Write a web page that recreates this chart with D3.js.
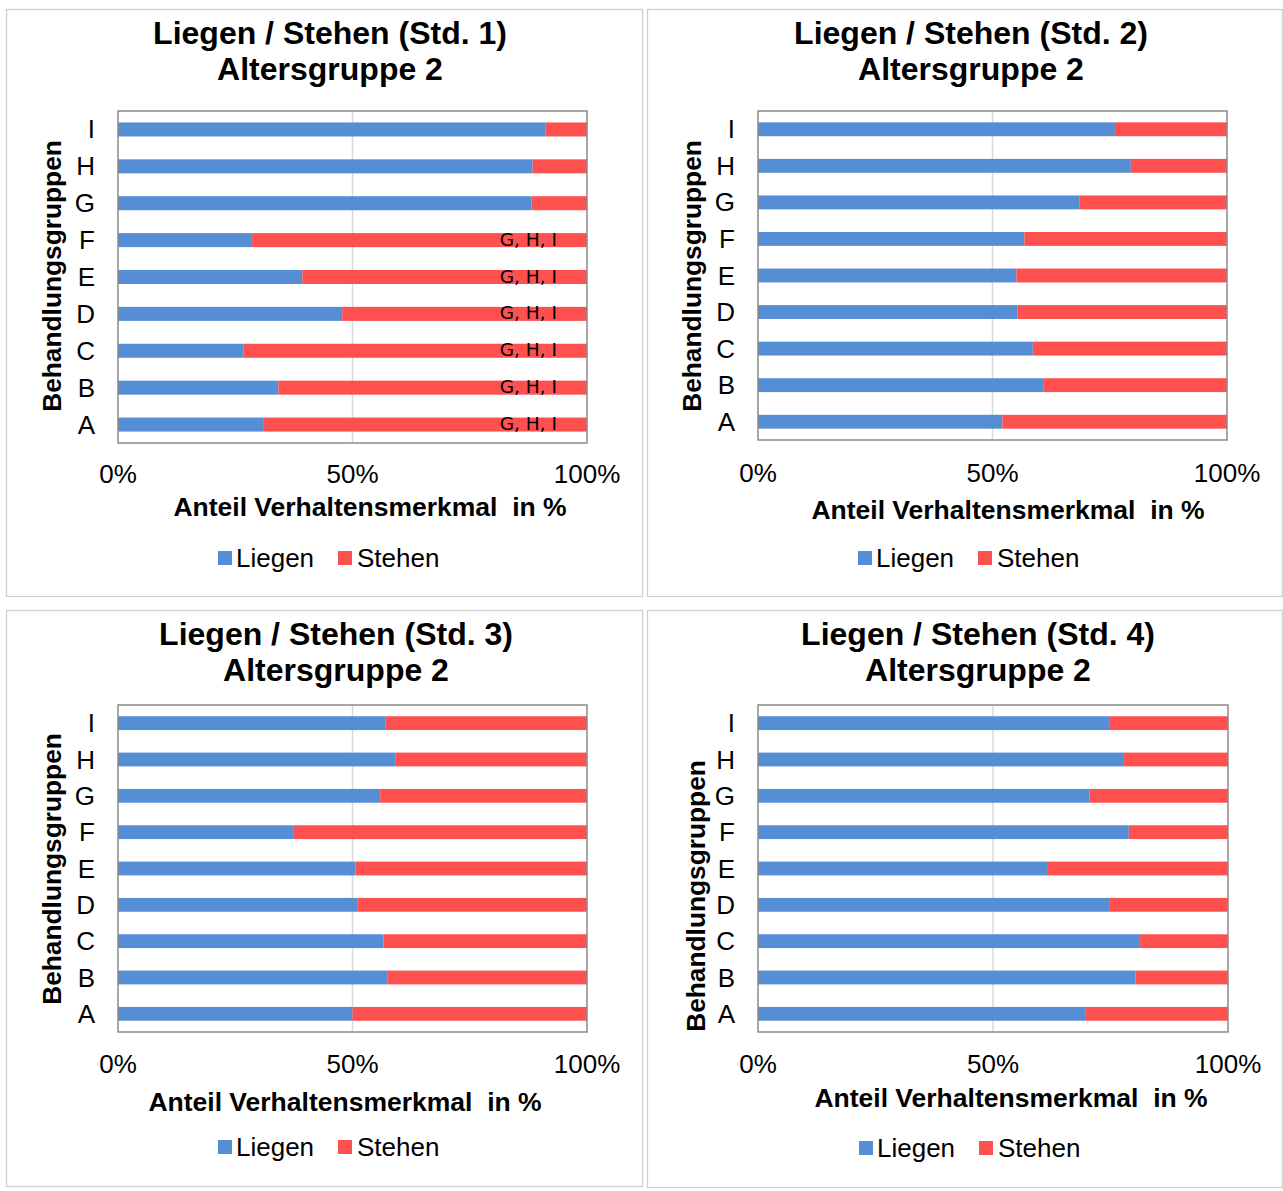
<!DOCTYPE html>
<html><head><meta charset="utf-8">
<script src="https://cdn.jsdelivr.net/npm/d3@7"></script>
<style>
html,body{margin:0;padding:0;background:#fff;}
svg text{font-family:"Liberation Sans",Arial,sans-serif;fill:#000;}
</style></head>
<body>
<svg id="chart" width="1283" height="1191"></svg>
<script>
// ---- data ----
const categories = ["A","B","C","D","E","F","G","H","I"];
const seriesNames = ["Liegen","Stehen"];
const tickLabels = ["0%","50%","100%"];
const tickValues = [0, 50, 100];
const titlesLine1 = ["Liegen / Stehen (Std. 1)","Liegen / Stehen (Std. 2)","Liegen / Stehen (Std. 3)","Liegen / Stehen (Std. 4)"];
const titleLine2 = "Altersgruppe 2";
const xAxisTitle = "Anteil Verhaltensmerkmal  in %";
const yAxisTitle = "Behandlungsgruppen";

const liegen1 = [31.1, 34.2, 26.7, 47.8, 39.3, 28.6, 88.2, 88.4, 91.1];
const stehen1 = [68.9, 65.8, 73.3, 52.2, 60.7, 71.4, 11.8, 11.6, 8.9];
const labels1 = ["G, H, I","G, H, I","G, H, I","G, H, I","G, H, I","G, H, I","","",""];

const liegen2 = [52.1, 60.8, 58.6, 55.3, 55.1, 56.8, 68.5, 79.5, 76.1];
const stehen2 = [47.9, 39.2, 41.4, 44.7, 44.9, 43.2, 31.5, 20.5, 23.9];

const liegen3 = [50.0, 57.4, 56.6, 51.0, 50.6, 37.5, 55.9, 59.1, 57.1];
const stehen3 = [50.0, 42.6, 43.4, 49.0, 49.4, 62.5, 44.1, 40.9, 42.9];

const liegen4 = [69.6, 80.3, 81.3, 74.7, 61.5, 78.9, 70.5, 77.9, 74.7];
const stehen4 = [30.4, 19.7, 18.7, 25.3, 38.5, 21.1, 29.5, 22.1, 25.3];

// ---- styles / layout ----
const colors = {Liegen:"#558ED5", Stehen:"#FF5050"};
const svg = d3.select("#chart");

const panels = [
  {frame:[6,9,636,587], plot:[118,111,587,443], liegen:liegen1, stehen:stehen1, labels:labels1,
   titleX:330, titleY:44, yTitleX:52, yTitleY:276, tickY:483, xTitleX:370, xTitleY:516, legX:218, legY:558, catX:95},
  {frame:[647,9,635,587], plot:[758,111,1227,440], liegen:liegen2, stehen:stehen2, labels:null,
   titleX:971, titleY:44, yTitleX:692, yTitleY:276, tickY:482, xTitleX:1008, xTitleY:519, legX:858, legY:558, catX:735},
  {frame:[6,610,636,576], plot:[118,705,587,1032], liegen:liegen3, stehen:stehen3, labels:null,
   titleX:336, titleY:645, yTitleX:52, yTitleY:869, tickY:1073, xTitleX:345, xTitleY:1111, legX:218, legY:1147, catX:95},
  {frame:[647,610,635,577], plot:[758,705,1228,1032], liegen:liegen4, stehen:stehen4, labels:null,
   titleX:978, titleY:645, yTitleX:696, yTitleY:896, tickY:1073, xTitleX:1011, xTitleY:1107, legX:859, legY:1148, catX:735}
];

panels.forEach((p, pi) => {
  const g = svg.append("g");
  // frame
  g.append("rect").attr("x", p.frame[0]+0.5).attr("y", p.frame[1]+0.5)
    .attr("width", p.frame[2]).attr("height", p.frame[3])
    .attr("fill", "#fff").attr("stroke", "#d0d0d0").attr("stroke-width", 1.3);

  const [x0, y0, x1, y1] = p.plot;
  const x = d3.scaleLinear().domain([0, 100]).range([x0, x1]);
  const y = d3.scaleBand().domain(categories.slice().reverse()).range([y0, y1]).paddingInner(0.62).paddingOuter(0.31);

  // gridlines
  g.append("g").selectAll("line").data(tickValues.filter(v => v > 0 && v < 100)).join("line")
    .attr("x1", d => x(d)).attr("x2", d => x(d)).attr("y1", y0).attr("y2", y1)
    .attr("stroke", "#d9d9d9").attr("stroke-width", 1.5);

  // stacked bars
  const rows = categories.map((c, i) => ({cat:c, Liegen:p.liegen[i], Stehen:p.stehen[i]}));
  const stack = d3.stack().keys(seriesNames)(rows);
  g.append("g").selectAll("g").data(stack).join("g")
    .attr("fill", d => colors[d.key])
    .selectAll("rect").data(d => d).join("rect")
    .attr("x", d => x(d[0])).attr("width", d => x(d[1]) - x(d[0]))
    .attr("y", d => y(d.data.cat)).attr("height", y.bandwidth());

  // plot border
  g.append("rect").attr("x", x0).attr("y", y0).attr("width", x1 - x0).attr("height", y1 - y0)
    .attr("fill", "none").attr("stroke", "#8a8a8a").attr("stroke-width", 1.5);

  // annotations
  if (p.labels) {
    g.append("g").selectAll("text").data(categories.map((c, i) => ({cat:c, t:p.labels[i]})).filter(d => d.t))
      .join("text")
      .attr("x", x(100) - 30).attr("y", d => y(d.cat) + y.bandwidth()/2 - 1)
      .attr("text-anchor", "end").attr("dominant-baseline", "central")
      .style("font-family", "'DejaVu Sans', sans-serif").style("font-size", "18.5px")
      .text(d => d.t);
  }

  // category labels
  g.append("g").selectAll("text").data(categories).join("text")
    .attr("x", p.catX).attr("y", d => y(d) + y.bandwidth()/2)
    .attr("text-anchor", "end").attr("dominant-baseline", "central")
    .style("font-size", "26px").text(d => d);

  // tick labels
  g.append("g").selectAll("text").data(tickValues).join("text")
    .attr("x", d => x(d)).attr("y", p.tickY).attr("text-anchor", "middle")
    .style("font-size", "26px").text((d, i) => tickLabels[i]);

  // titles
  const t = g.append("text").attr("x", p.titleX).attr("y", p.titleY).attr("text-anchor", "middle")
    .style("font-size", "32px").style("font-weight", "bold");
  t.append("tspan").attr("x", p.titleX).attr("y", p.titleY).text(titlesLine1[pi]);
  t.append("tspan").attr("x", p.titleX).attr("y", p.titleY + 36).text(titleLine2);

  // x axis title
  g.append("text").attr("x", p.xTitleX).attr("y", p.xTitleY).attr("text-anchor", "middle")
    .style("font-size", "26.5px").style("font-weight", "bold").style("white-space", "pre")
    .attr("xml:space", "preserve").text(xAxisTitle);

  // y axis title
  g.append("text").attr("transform", `translate(${p.yTitleX},${p.yTitleY}) rotate(-90)`)
    .attr("text-anchor", "middle").attr("dominant-baseline", "central")
    .style("font-size", "26.3px").style("font-weight", "bold").text(yAxisTitle);

  // legend
  const leg = g.append("g");
  seriesNames.forEach((s, si) => {
    const lx = p.legX + si * 120;
    leg.append("rect").attr("x", lx).attr("y", p.legY - 7).attr("width", 14).attr("height", 14).attr("fill", colors[s]);
    leg.append("text").attr("x", lx + 18 + (si ? 1 : 0)).attr("y", p.legY).attr("dominant-baseline", "central")
      .style("font-size", "26px").text(s);
  });
});
</script>
</body></html>
